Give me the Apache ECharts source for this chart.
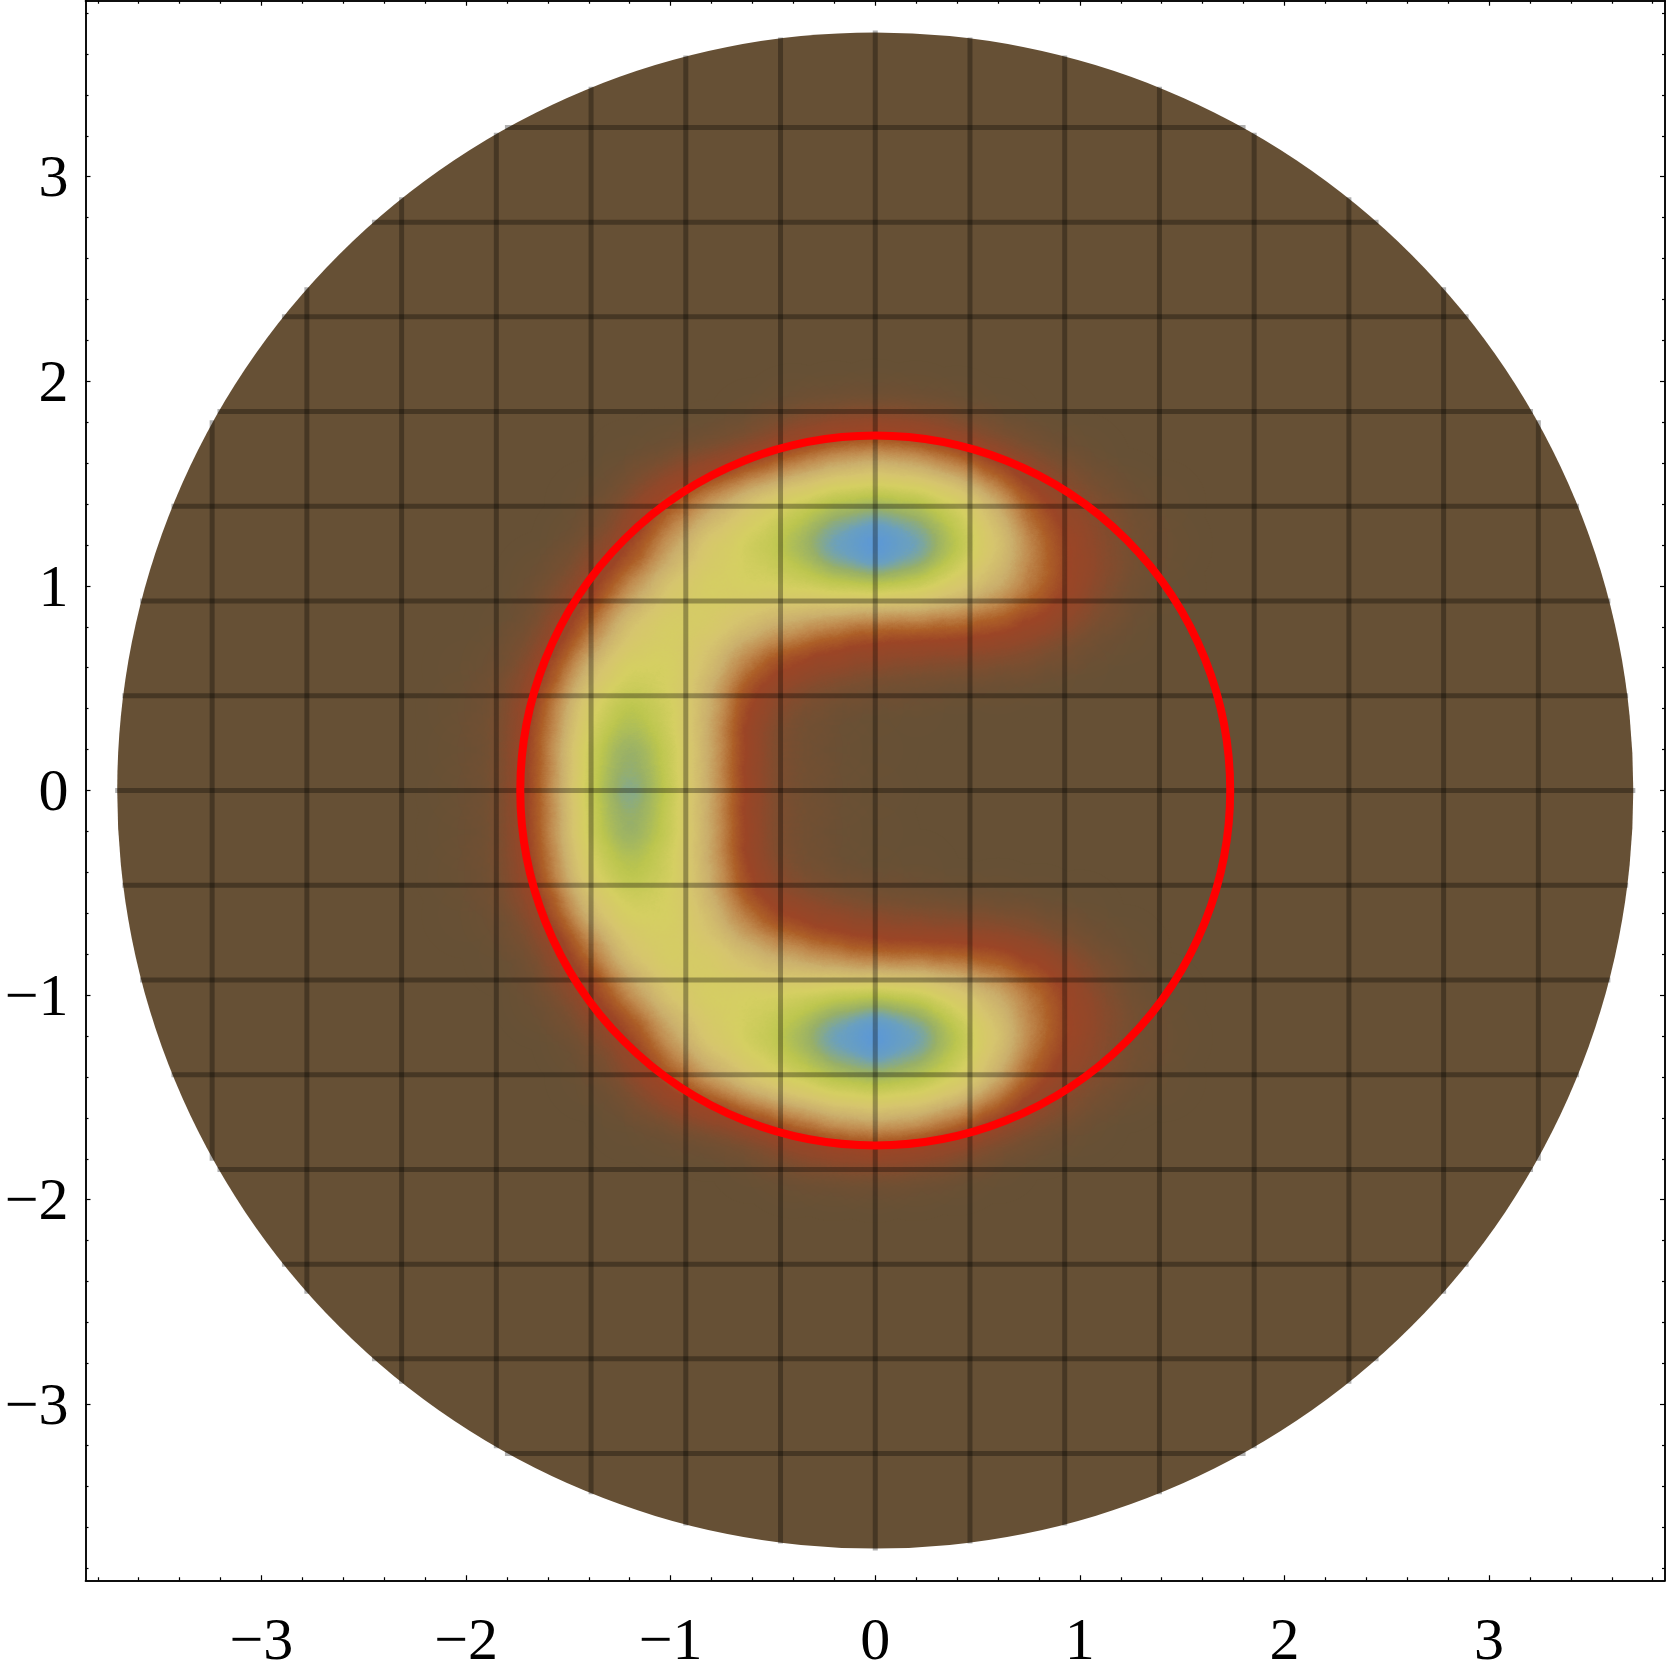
<!DOCTYPE html>
<html>
<head>
<meta charset="utf-8">
<style>html,body{margin:0;background:#fff}#chart{width:1667px;height:1675px}</style>
<script src="https://cdn.jsdelivr.net/npm/echarts@6/dist/echarts.min.js"></script>
</head>
<body>
<div id="chart"></div>
<script>
// axis range and ticks
const axisMin = -3.86;
const axisMax = 3.86;
const majorTicks = [-3, -2, -1, 0, 1, 2, 3];
const minorTicks = [-3.8, -3.6, -3.4, -3.2, -2.8, -2.6, -2.4, -2.2, -1.8, -1.6, -1.4, -1.2, -0.8, -0.6, -0.4, -0.2,
  0.2, 0.4, 0.6, 0.8, 1.2, 1.4, 1.6, 1.8, 2.2, 2.4, 2.6, 2.8, 3.2, 3.4, 3.6, 3.8];

// disc and red circle radii
const discRadius = 3.705;
const circleRadius = 1.735;

// mesh lines: offset from the centre and half length
const meshOffsets = [-3.241, -2.778, -2.315, -1.852, -1.389, -0.926, -0.463, 0, 0.463, 0.926, 1.389, 1.852, 2.315, 2.778, 3.241];
const meshHalf = [1.81, 2.46, 2.9, 3.215, 3.44, 3.593, 3.68, 3.715, 3.68, 3.593, 3.44, 3.215, 2.9, 2.46, 1.81];

// density, on a 0.2 lattice
const heatX = [-2, -1.8, -1.6, -1.4, -1.2, -1, -0.8, -0.6, -0.4, -0.2, 0, 0.2, 0.4, 0.6, 0.8, 1, 1.2, 1.4];
const heatY = [1.8, 1.6, 1.4, 1.2, 1, 0.8, 0.6, 0.4, 0.2, 0, -0.2, -0.4, -0.6, -0.8, -1, -1.2, -1.4, -1.6, -1.8];
const heatRows = [
  [0, 0, 0, 0, 0, 0, 0, 1, 4, 5, 6, 5, 3, 1, 0, 0, 0, 0],
  [0, 0, 0, 0, 1, 3, 6, 10, 18, 25, 28, 25, 18, 10, 5, 2, 0, 0],
  [0, 0, 0, 1, 6, 17, 25, 36, 42, 46, 48, 46, 42, 27, 13, 8, 3, 1],
  [0, 0, 0, 4, 10, 23, 36, 42, 52, 78, 100, 78, 48, 33, 18, 10, 5, 2],
  [0, 0, 3, 9, 21, 34, 40, 40, 40, 40, 38, 40, 35, 28, 19, 10, 4, 1],
  [0, 1, 5, 16, 33, 40, 36, 28, 23, 18, 15, 15, 15, 13, 10, 5, 2, 0],
  [1, 3, 10, 29, 40, 40, 28, 15, 9, 7, 5, 4, 3, 3, 2, 1, 0, 0],
  [2, 4, 17, 38, 50, 40, 25, 8, 4, 2, 1, 1, 0, 0, 0, 0, 0, 0],
  [2, 4, 19, 40, 64, 40, 25, 7, 4, 2, 1, 0, 0, 0, 0, 0, 0, 0],
  [2, 4, 19, 40, 72, 40, 25, 7, 4, 2, 1, 0, 0, 0, 0, 0, 0, 0],
  [2, 4, 19, 40, 64, 40, 25, 7, 4, 2, 1, 0, 0, 0, 0, 0, 0, 0],
  [2, 4, 17, 38, 50, 40, 25, 8, 4, 2, 1, 1, 0, 0, 0, 0, 0, 0],
  [1, 3, 10, 29, 40, 40, 28, 15, 9, 7, 5, 4, 3, 3, 2, 1, 0, 0],
  [0, 1, 5, 16, 33, 40, 36, 28, 23, 18, 15, 15, 15, 13, 10, 5, 2, 0],
  [0, 0, 3, 9, 21, 34, 40, 40, 40, 40, 38, 40, 35, 28, 19, 10, 4, 1],
  [0, 0, 0, 4, 10, 23, 36, 42, 52, 78, 100, 78, 48, 33, 18, 10, 5, 2],
  [0, 0, 0, 1, 6, 17, 25, 36, 42, 46, 48, 46, 42, 27, 13, 8, 3, 1],
  [0, 0, 0, 0, 1, 3, 6, 10, 18, 25, 28, 25, 18, 10, 5, 2, 0, 0],
  [0, 0, 0, 0, 0, 0, 0, 1, 4, 5, 6, 5, 3, 1, 0, 0, 0, 0]
];
const heatColors = ['#665035', '#7a4e30', '#90482a', '#9c4526', '#ad5f27', '#c08a4e', '#cbaf6c', '#d6c56e', '#d5cf62',
  '#bcc64e', '#98b068', '#6aa0c0', '#5896dc', '#5896dc'];

const heatData = [];
heatRows.forEach((row, j) => {
  row.forEach((v, i) => {
    if (v > 0) heatData.push([heatX[i], heatY[j], v]);
  });
});

// flat square map, only there so the heatmap can use its blurred rendering
echarts.registerMap('plane', {
  type: 'FeatureCollection',
  features: [{
    type: 'Feature',
    properties: { name: 'plane' },
    geometry: {
      type: 'Polygon',
      coordinates: [[[axisMin, axisMin], [axisMax, axisMin], [axisMax, axisMax], [axisMin, axisMax], [axisMin, axisMin]]]
    }
  }]
});

const gridBox = { left: 85.5, top: 0.75, width: 1579.5, height: 1579.5 };

function tickAxis(position, values, len, labels) {
  const label = {
    show: true,
    customValues: values,
    color: '#000',
    fontFamily: 'Liberation Serif',
    fontSize: 60,
    margin: position === 'bottom' ? 33 : 17,
    formatter: (v) => (v < 0 ? '\u2212' + (-v) : String(v))
  };
  if (position === 'left') {
    // digits sit a little below their ticks
    label.verticalAlign = 'top';
    label.lineHeight = 8;
  }
  return {
    type: 'value',
    position: position,
    min: axisMin,
    max: axisMax,
    axisLine: { show: true, onZero: false, lineStyle: { color: '#000', width: 1.5 } },
    splitLine: { show: false },
    axisTick: { show: true, inside: true, length: len, customValues: values, lineStyle: { color: '#000', width: 1.2 } },
    axisLabel: labels ? label : { show: false }
  };
}

const meshSeries = [];
meshOffsets.forEach((p, i) => {
  const h = meshHalf[i];
  [[[p, -h], [p, h]], [[-h, p], [h, p]]].forEach((seg) => {
    meshSeries.push({
      type: 'line',
      data: seg,
      z: 3,
      silent: true,
      showSymbol: false,
      symbol: 'none',
      clip: false,
      lineStyle: { color: '#000', width: 5, opacity: 0.31, cap: 'butt' }
    });
  });
});

function circleSeries(r, z, style) {
  return {
    type: 'custom',
    coordinateSystem: 'cartesian2d',
    z: z,
    silent: true,
    clip: false,
    data: [[0, 0, r]],
    renderItem: (params, api) => {
      const c = api.coord([api.value(0), api.value(1)]);
      const s = api.size([api.value(2), 0]);
      return { type: 'circle', shape: { cx: c[0], cy: c[1], r: s[0] }, style: style };
    }
  };
}

const chart = echarts.init(document.getElementById('chart'));
chart.setOption({
  animation: false,
  backgroundColor: '#fff',
  grid: gridBox,
  xAxis: [
    tickAxis('bottom', majorTicks, 5, true),
    tickAxis('top', majorTicks, 5, false),
    tickAxis('bottom', minorTicks, 3, false),
    tickAxis('top', minorTicks, 3, false)
  ],
  yAxis: [
    tickAxis('left', majorTicks, 5, true),
    tickAxis('right', majorTicks, 5, false),
    tickAxis('left', minorTicks, 3, false),
    tickAxis('right', minorTicks, 3, false)
  ],
  geo: {
    map: 'plane',
    roam: false,
    silent: true,
    aspectScale: 1,
    layoutCenter: [gridBox.left + gridBox.width / 2, gridBox.top + gridBox.height / 2],
    layoutSize: gridBox.width,
    boundingCoords: [[axisMin, axisMax], [axisMax, axisMin]],
    label: { show: false },
    itemStyle: { areaColor: 'transparent', borderWidth: 0 }
  },
  visualMap: {
    show: false,
    type: 'continuous',
    seriesIndex: 1,
    min: 0,
    max: 100,
    inRange: { color: heatColors }
  },
  series: [
    circleSeries(discRadius, 1, { fill: '#665035' }),
    {
      type: 'heatmap',
      coordinateSystem: 'geo',
      geoIndex: 0,
      z: 2,
      silent: true,
      data: heatData,
      pointSize: 36,
      blurSize: 44,
      minOpacity: 1,
      maxOpacity: 1
    },
    ...meshSeries,
    circleSeries(circleRadius, 4, { fill: 'none', stroke: '#ff0000', lineWidth: 8 })
  ]
});
</script>
</body>
</html>
